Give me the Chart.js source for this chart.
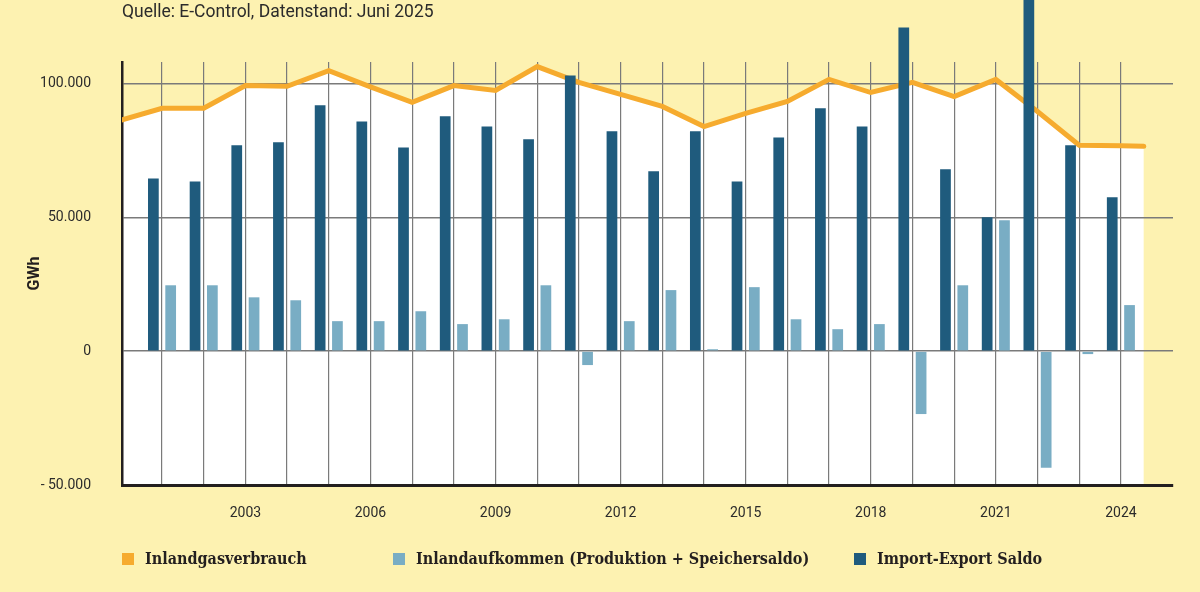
<!DOCTYPE html>
<html lang="de">
<head>
<meta charset="utf-8">
<title>Gasversorgung Österreich</title>
<script src="https://cdn.jsdelivr.net/npm/chart.js@4.4.1/dist/chart.umd.min.js"></script>
<style>
    html, body { margin: 0; padding: 0; background: #fdf2b1; }
    #wrap { position: relative; width: 1200px; height: 592px; overflow: hidden; }
    #chartBox { position: absolute; left: 0; top: 0; width: 1200px; height: 592px; }
    .source {
        position: absolute; left: 122px; top: 1px;
        font: 17.5px Roboto, sans-serif; color: #2b2b2b;
    }
    #legend {
        position: absolute; left: 122px; top: 549px;
        display: flex; align-items: center;
        font-family: 'DejaVu Serif', serif; font-stretch: condensed;
        font-weight: bold; font-size: 16px; line-height: 20px; color: #231f1f;
    }
    #legend .item { display: flex; align-items: center; }
    #legend .item:nth-child(1) { width: 271px; }
    #legend .item:nth-child(2) { width: 461px; }
    #legend .box { width: 12px; height: 12px; margin-right: 11px; }
</style>
</head>
<body>
<div id="wrap">
    <div id="chartBox"><canvas id="gasChart"></canvas></div>
    <div class="source">Quelle: E-Control, Datenstand: Juni 2025</div>
    <div id="legend"></div>
</div>
<script>
// Jahre der Balken
const years = [2001, 2002, 2003, 2004, 2005, 2006, 2007, 2008, 2009, 2010, 2011, 2012,
               2013, 2014, 2015, 2016, 2017, 2018, 2019, 2020, 2021, 2022, 2023, 2024];
const labeledYears = [2003, 2006, 2009, 2012, 2015, 2018, 2021, 2024];
const yTicks = [100000, 50000, 0, -50000];

// GWh
const importExportSaldo = [64500, 63400, 76900, 78000, 91800, 85800, 76100, 87700, 83900, 79100, 103000, 82100,
                           67200, 82100, 63400, 79800, 90700, 83900, 120900, 67900, 50000, 133000, 76900, 57500];
const inlandaufkommen = [24600, 24600, 20100, 19000, 11200, 11200, 14900, 10100, 11900, 24600, -5200, 11200,
                         22800, 700, 23900, 11900, 8200, 10100, -23500, 24600, 48900, -43600, -1100, 17200];

// Verbrauchslinie (beginnt 2000, endet kurz nach 2024)
const verbrauchYears = [2000, 2001, 2002, 2003, 2004, 2005, 2006, 2007, 2008, 2009, 2010, 2011, 2012,
                        2013, 2014, 2015, 2016, 2017, 2018, 2019, 2020, 2021, 2022, 2023, 2024, 2024.55];
const inlandgasverbrauch = [86200, 90700, 90700, 99200, 98900, 104800, 98700, 92900, 99200, 97400, 106300, 100400, 95900,
                            91400, 83900, 88800, 93300, 101500, 96600, 100400, 95100, 101500, 89500, 76900, 76700, 76500];

const colors = {
    verbrauch: '#f6ab2e',
    aufkommen: '#79adc4',
    saldo: '#1f5b7d'
};

function toPoints(xs, ys) {
    return xs.map((x, i) => ({ x: x, y: ys[i] }));
}

function formatGWh(v) {
    if (v === 0) return '0';
    const s = String(Math.abs(v)).replace(/\B(?=(\d{3})+(?!\d))/g, '.');
    return (v < 0 ? '- ' : '') + s;
}

const tickFont = { family: 'Roboto', size: 14 };

const chart = new Chart(document.getElementById('gasChart').getContext('2d'), {
    type: 'bar',
    data: {
        datasets: [{
            type: 'line',
            label: 'Inlandgasverbrauch',
            data: toPoints(verbrauchYears, inlandgasverbrauch),
            borderColor: colors.verbrauch,
            backgroundColor: '#ffffff',
            borderWidth: 5,
            borderCapStyle: 'round',
            pointRadius: 0,
            fill: 'start',
            tension: 0,
            order: 3
        }, {
            label: 'Inlandaufkommen (Produktion + Speichersaldo)',
            data: toPoints(years, inlandaufkommen),
            backgroundColor: colors.aufkommen,
            categoryPercentage: 0.83,
            barPercentage: 0.62,
            order: 2
        }, {
            label: 'Import-Export Saldo',
            data: toPoints(years, importExportSaldo),
            backgroundColor: colors.saldo,
            categoryPercentage: 0.83,
            barPercentage: 0.62,
            clip: false,
            order: 1
        }]
    },
    options: {
        responsive: true,
        maintainAspectRatio: false,
        animation: false,
        layout: { padding: { left: 22, right: 27, top: 62, bottom: 60 } },
        plugins: {
            legend: { display: false },
            tooltip: { enabled: false },
            filler: { drawTime: 'beforeDraw' }
        },
        scales: {
            x: {
                type: 'linear',
                min: 2000.04,
                max: 2025.25,
                offset: false,
                afterBuildTicks: function(scale) {
                    scale.ticks = years.map(y => ({ value: y }));
                },
                afterFit: function(scale) { scale.height = 47; },
                ticks: {
                    autoSkip: false,
                    maxRotation: 0,
                    padding: 20,
                    color: '#2b2b2b',
                    font: tickFont,
                    callback: v => labeledYears.includes(v) ? String(v) : ''
                },
                grid: { color: '#7a7a7a', lineWidth: 1.2, drawTicks: false, offset: false },
                border: { color: '#231f1f', width: 3 }
            },
            y: {
                min: -50000,
                max: 108000,
                afterBuildTicks: function(scale) {
                    scale.ticks = yTicks.map(v => ({ value: v }));
                },
                afterFit: function(scale) { scale.width = 100; },
                ticks: {
                    padding: 31,
                    color: '#2b2b2b',
                    font: tickFont,
                    callback: v => formatGWh(v)
                },
                grid: { color: '#7a7a7a', lineWidth: 1.5, drawTicks: false },
                border: { color: '#231f1f', width: 2.5 },
                title: {
                    display: true,
                    text: 'GWh',
                    color: '#231f1f',
                    font: { family: 'Roboto', size: 16, weight: 'bold' },
                    padding: { top: 3, bottom: 0 }
                }
            }
        }
    }
});

// Legende wie im Original unten links
const legendEl = document.getElementById('legend');
chart.data.datasets.forEach(function(ds) {
    const item = document.createElement('div');
    item.className = 'item';
    const box = document.createElement('span');
    box.className = 'box';
    box.style.background = ds.type === 'line' ? ds.borderColor : ds.backgroundColor;
    const text = document.createElement('span');
    text.textContent = ds.label;
    item.appendChild(box);
    item.appendChild(text);
    legendEl.appendChild(item);
});
</script>
</body>
</html>
